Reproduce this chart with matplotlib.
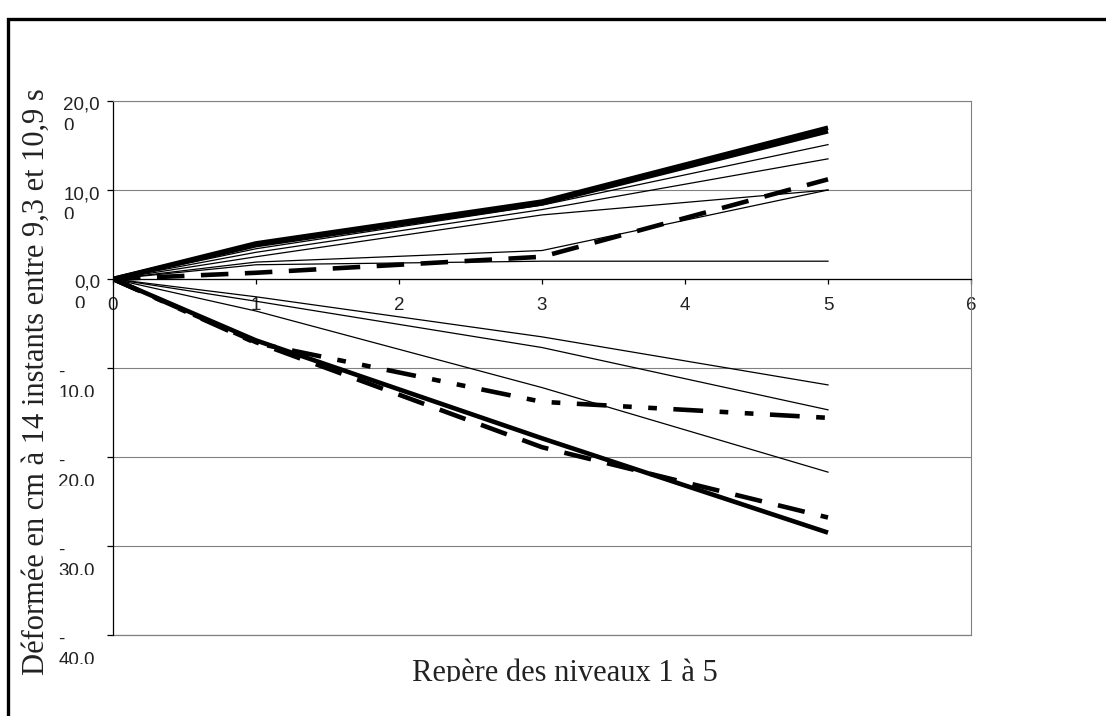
import matplotlib
matplotlib.use("Agg")
import matplotlib.pyplot as plt
import matplotlib.transforms as mtransforms
from matplotlib.patches import Rectangle

# Levels (x) and the 14 deformed shapes (cm)
levels = [0, 1, 3, 5]

thick_a = [0, 4.0, 8.7, 17.0]
thick_b = [0, 3.8, 8.5, 16.6]
thin_c = [0, 3.4, 8.3, 15.1]
thin_d = [0, 3.0, 7.8, 13.5]
thin_e = [0, 2.5, 7.2, 10.0]
thin_f = [0, 1.9, 3.2, 10.0]
thin_h = [0, 1.6, 2.0, 2.0]
dashed_up = [0, 0.7, 2.5, 11.2]

thin_n1 = [0, -2.0, -6.5, -11.9]
thin_n2 = [0, -2.5, -7.7, -14.7]
thin_n3 = [0, -3.6, -12.2, -21.7]
dashdot_n = [0, -7.2, -13.8, -15.6]
dashed_n = [0, -7.1, -18.9, -26.8]
thick_n = [0, -6.9, -17.9, -28.5]

xticks = [0, 1, 2, 3, 4, 5, 6]
yticks = [20, 10, 0, -10, -20, -30, -40]

W, H = 1106, 716
fig = plt.figure(figsize=(W / 100, H / 100), dpi=100)
fig.patch.set_facecolor("white")

# plot area in pixels: left 113, right 971, top 101, bottom 635
ax = fig.add_axes([113 / W, 1 - 635 / H, 858 / W, 534 / H])
ax.set_xlim(0, 6)
ax.set_ylim(-40, 20)

thin = dict(color="black", lw=0.9)
thick = dict(color="black", lw=3.3, solid_capstyle="butt")

# thin lines
for s in [thin_c, thin_d, thin_e, thin_f, thin_h, thin_n1, thin_n2, thin_n3]:
    ax.plot(levels, s, **thin)

# thick solid
ax.plot(levels, thick_a, **thick)
ax.plot(levels, thick_b, **thick)
ax.plot(levels, thick_n, **thick)

# thick dashed
for s in [dashed_up, dashed_n]:
    ln, = ax.plot(levels, s, color="black", lw=3.3, dash_capstyle="butt")
    ln.set_dashes((6, 3.6))

# thick dash-dot-dot
ln, = ax.plot(levels, dashdot_n, color="black", lw=3.3, dash_capstyle="butt")
ln.set_dashes((6.5, 3.6, 1.9, 3.6, 1.9, 3.6))

# axes styling
ax.grid(axis="y", color="#808080", lw=0.8)
ax.set_axisbelow(True)
ax.spines["top"].set_color("#808080")
ax.spines["right"].set_color("#808080")
ax.spines["left"].set_color("black")
ax.spines["left"].set_linewidth(0.9)
ax.spines["bottom"].set_position(("data", 0))
ax.spines["bottom"].set_color("black")
ax.spines["bottom"].set_linewidth(0.9)
ax.axhline(-40, color="#808080", lw=0.9, clip_on=False)

ax.set_xticks(xticks)
ax.set_xticklabels([str(t) for t in xticks], fontfamily="Liberation Sans",
                   fontsize=13.5, color="#222222")
ax.tick_params(axis="x", direction="out", length=3.6, width=0.9, pad=9.5)
ax.set_yticks(yticks)
ax.tick_params(axis="y", direction="out", length=4.3, width=0.9, labelleft=False)

# y tick labels: wrapped and cut like in the original sheet
base = mtransforms.blended_transform_factory(ax.transAxes, ax.transData)
for v in yticks:
    s = f"{abs(v):.2f}".replace(".", ",")
    lab = s[:-1] + "\n" + s[-1]
    dx = -13
    cut = 29
    if v < 0:
        lab = "-\n" + lab
        dx = -18
        cut = 29
    ypix = ax.transData.transform((0, v))[1]
    tr = mtransforms.offset_copy(base, fig=fig, x=dx, y=4, units="dots")
    t = fig.text(0, v, lab, transform=tr, ha="right", va="top",
                 multialignment="left", fontfamily="Liberation Sans",
                 fontsize=13.5, color="#222222", linespacing=1.3)
    t.set_clip_box(mtransforms.Bbox.from_extents(0, ypix - cut, 113, ypix + 12))
    t.set_clip_on(True)

# axis titles
fig.text(36 / W, 1 - 382 / H, "Déformée en cm à 14 instants entre 9,3 et 10,9 s",
         rotation=90, ha="center", va="center", fontfamily="Liberation Serif",
         fontsize=22, color="#222222")
xl = fig.text(565 / W, 1 - 681 / H, "Repère des niveaux 1 à 5", ha="center",
              va="baseline", fontfamily="Liberation Serif", fontsize=22,
              color="#222222")
xl.set_clip_box(mtransforms.Bbox.from_extents(0, H - 682, W, H))
xl.set_clip_on(True)

# outer frame of the chart (cut by the picture on the right and bottom)
fig.add_artist(Rectangle((8 / W, -0.1), 1.2, 1.1 - 19 / H, transform=fig.transFigure,
                         fill=False, edgecolor="black", lw=2.4, clip_on=False))

fig.savefig("out.png", dpi=100)
